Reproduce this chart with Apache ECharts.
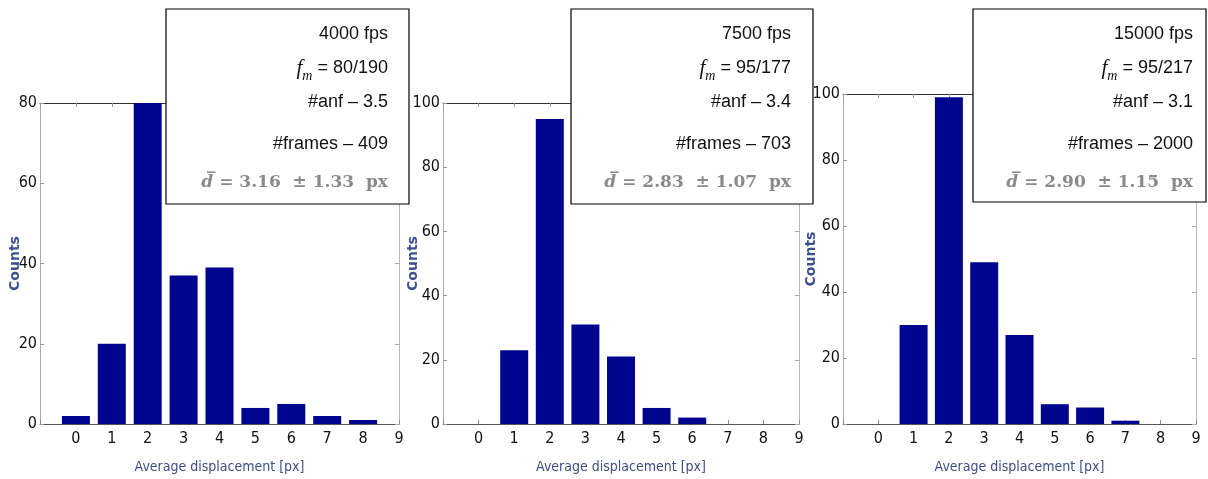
<!DOCTYPE html>
<html>
<head>
<meta charset="utf-8">
<script src="https://cdn.jsdelivr.net/npm/echarts@6/dist/echarts.min.js"></script>
<style>
  html, body { margin: 0; padding: 0; background: #fff; }
  #chart { width: 1208px; height: 479px; }
</style>
</head>
<body>
<div id="chart"></div>
<script>
// bins of average displacement and counts per frame rate
const bins = [0, 1, 2, 3, 4, 5, 6, 7, 8];
const counts4000 = [2, 20, 80, 37, 39, 4, 5, 2, 1];
const counts7500 = [0, 23, 95, 31, 21, 5, 2, 0, 0];
const counts15000 = [0, 30, 99, 49, 27, 6, 5, 1, 0];
const yMaxes = [80, 100, 100];

// annotation box texts
const fpsLabels = ['4000 fps', '7500 fps', '15000 fps'];
const fmLabels = ['80/190', '95/177', '95/217'];
const anfLabels = ['3.5', '3.4', '3.1'];
const frameLabels = ['409', '703', '2000'];
const dMeans = ['3.16', '2.83', '2.90'];
const dStds = ['1.33', '1.07', '1.15'];

const allCounts = [counts4000, counts7500, counts15000];

// panel placement (pixels)
const grids = [
  { left: 40, top: 103, width: 359, height: 322 },
  { left: 443, top: 103, width: 356, height: 322 },
  { left: 843, top: 94, width: 353, height: 330 }
];
const nameGaps = [18, 23, 25];
const boxes = [
  { x: 166, y: 9, w: 243, h: 195, tx: 388 },
  { x: 571, y: 9, w: 242, h: 195, tx: 791 },
  { x: 973, y: 9, w: 233, h: 193, tx: 1193 }
];

const narrow = '"DejaVu Sans Condensed", "Liberation Sans", sans-serif';
const xAxes = [];
const yAxes = [];
const series = [];

grids.forEach((g, i) => {
  // bottom axis with labels
  xAxes.push({
    type: 'value', gridIndex: i, min: -1, max: 9, interval: 1, position: 'bottom',
    name: 'Average displacement [px]', nameLocation: 'middle', nameGap: 36,
    nameMoveOverlap: false,
    nameTextStyle: { fontFamily: narrow, fontSize: 14, color: '#3d4f86' },
    axisLine: { onZero: false, lineStyle: { color: '#555', width: 1 } },
    axisTick: { inside: true, length: 4, lineStyle: { color: '#888' } },
    axisLabel: { fontFamily: narrow, fontSize: 16, color: '#111', margin: 7,
      formatter: v => (v < 0 ? '' : String(v)) },
    splitLine: { show: false }
  });
  // top border
  xAxes.push({
    type: 'value', gridIndex: i, min: -1, max: 9, interval: 1, position: 'top',
    axisLine: { onZero: false, lineStyle: { color: '#333', width: 1 } },
    axisTick: { inside: true, length: 4, lineStyle: { color: '#999' } },
    axisLabel: { show: false },
    splitLine: { show: false }
  });
  // left axis with labels
  yAxes.push({
    type: 'value', gridIndex: i, min: 0, max: yMaxes[i], interval: 20, position: 'left',
    name: 'Counts', nameLocation: 'middle', nameGap: nameGaps[i],
    nameMoveOverlap: false,
    nameTextStyle: { fontFamily: 'DejaVu Sans', fontWeight: 'bold', fontSize: 14, color: '#3a5090' },
    axisLine: { show: true, onZero: false, lineStyle: { color: '#aaa', width: 1 } },
    axisTick: { show: true, inside: true, length: 4, lineStyle: { color: '#999' } },
    axisLabel: { fontFamily: narrow, fontSize: 16, color: '#111', margin: 3 },
    splitLine: { show: false }
  });
  // right border
  yAxes.push({
    type: 'value', gridIndex: i, min: 0, max: yMaxes[i], interval: 20, position: 'right',
    axisLine: { show: true, onZero: false, lineStyle: { color: '#bbb', width: 1 } },
    axisTick: { show: true, inside: true, length: 4, lineStyle: { color: '#aaa' } },
    axisLabel: { show: false },
    splitLine: { show: false }
  });
  series.push({
    type: 'bar',
    xAxisIndex: i * 2,
    yAxisIndex: i * 2,
    barWidth: 28,
    itemStyle: { color: '#000590' },
    data: bins.map((b, k) => [b, allCounts[i][k]])
  });
});

// annotation boxes
const graphic = [];
boxes.forEach((b, i) => {
  graphic.push({
    type: 'rect', z: 100,
    shape: { x: b.x, y: b.y, width: b.w, height: b.h },
    style: { fill: '#fff', stroke: '#000', lineWidth: 1.2 }
  });
  const lines = [
    { y: 34, text: fpsLabels[i] },
    { y: 68, text: '{f|f}{m|m}{r| = ' + fmLabels[i] + '}' },
    { y: 102, text: '#anf \u2013 ' + anfLabels[i] },
    { y: 144, text: '#frames \u2013 ' + frameLabels[i] },
    { y: 183, text: '{d|d\u0305}{g| = ' + dMeans[i] + '  \u00b1 ' + dStds[i] + '  px}' }
  ];
  lines.forEach(l => {
    graphic.push({
      type: 'text', z: 101, x: b.tx, y: l.y,
      style: {
        text: l.text,
        align: 'right', verticalAlign: 'middle',
        fontFamily: 'Liberation Sans', fontSize: 18, fill: '#111',
        rich: {
          f: { fontFamily: 'Liberation Serif', fontStyle: 'italic', fontSize: 21, fill: '#111' },
          m: { fontFamily: 'Liberation Serif', fontStyle: 'italic', fontSize: 14, fill: '#111', padding: [16, 0, 0, 0] },
          r: { fontFamily: 'Liberation Sans', fontSize: 18, fill: '#111' },
          d: { fontFamily: 'DejaVu Serif', fontStyle: 'italic', fontWeight: 'bold', fontSize: 17, fill: '#8a8a8a' },
          g: { fontFamily: 'DejaVu Serif', fontWeight: 'bold', fontSize: 17, fill: '#8a8a8a' }
        }
      }
    });
  });
});

const chart = echarts.init(document.getElementById('chart'));
chart.setOption({
  animation: false,
  backgroundColor: '#fff',
  grid: grids,
  xAxis: xAxes,
  yAxis: yAxes,
  series: series,
  graphic: graphic
});
</script>
</body>
</html>
